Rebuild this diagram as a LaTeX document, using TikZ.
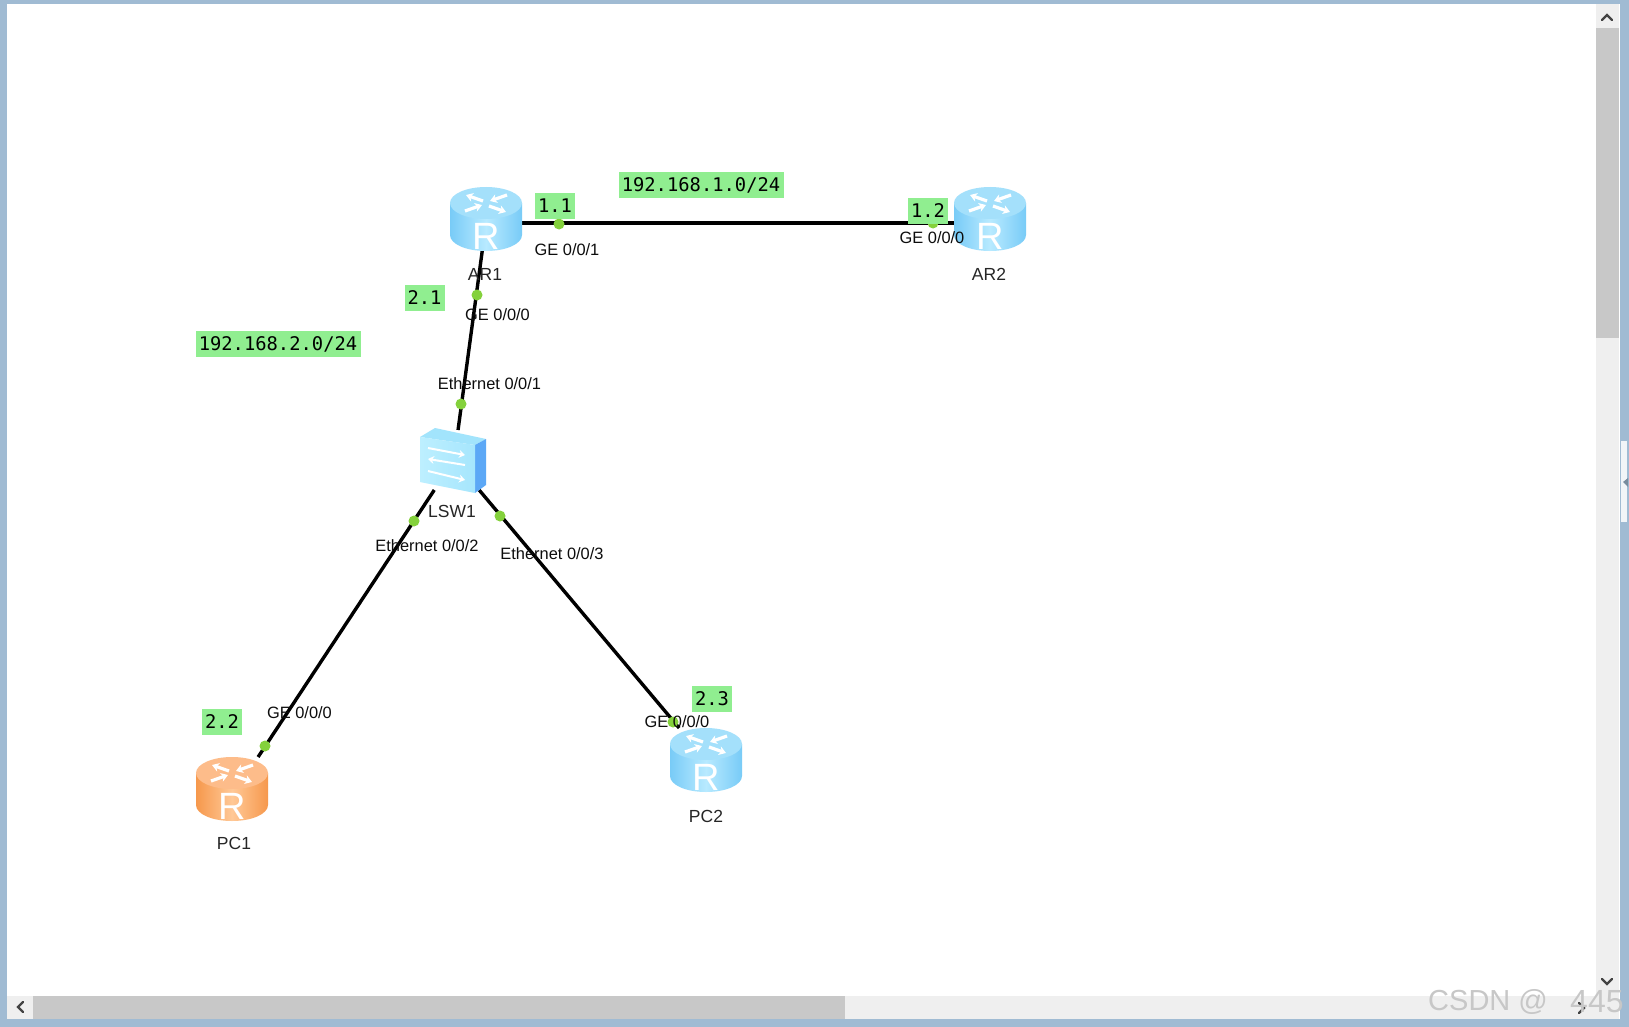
\documentclass[tikz,border=0pt]{standalone}
\usepackage{fontspec}
\setmainfont{Liberation Sans}
\newfontfamily\monolabel{DejaVu Sans Mono}
\usetikzlibrary{arrows.meta}
\definecolor{frameblue}{HTML}{A0BBD3}
\definecolor{barbg}{HTML}{EFEFEF}
\definecolor{barthumb}{HTML}{C8C8C8}
\definecolor{labelgreen}{HTML}{90EE90}
\definecolor{dotgreen}{HTML}{84D13C}
\definecolor{chev}{HTML}{444444}
\definecolor{blueedge}{HTML}{78CBF7}
\definecolor{bluemid}{HTML}{B8EAFF}
\definecolor{bluetop}{HTML}{A4E0FB}
\definecolor{orangeedge}{HTML}{F6984C}
\definecolor{orangemid}{HTML}{FFC896}
\definecolor{orangetop}{HTML}{FDBC8A}
\definecolor{swfront}{HTML}{BDEFFF}
\definecolor{swfrontb}{HTML}{A6E6FD}
\definecolor{swtop}{HTML}{A2E4FC}
\definecolor{swside}{HTML}{5CA8F6}
\tikzset{
  x=1pt,y=-1pt,
  anchorbox/.style={rectangle,minimum width=#1,inner sep=0pt,outer sep=0pt},
  routerbox/.style={anchorbox=72,minimum height=64},
  switchbox/.style={anchorbox=66,minimum height=60},
  link/.style={draw=black,line width=3.4pt},
  portdot/.style={circle,fill=dotgreen,minimum size=11,inner sep=0pt},
  porttext/.style={inner sep=0pt,text=black!95,font=\fontsize{16.4}{16.4}\selectfont},
  devtext/.style={inner sep=0pt,text=black!85,font=\fontsize{17.5}{17.5}\selectfont},
  iplabel/.style={fill=labelgreen,inner sep=0pt,minimum height=26,text=black,font=\monolabel\fontsize{18.8}{18.8}\selectfont},
  shortip/.style={iplabel,minimum width=40},
  longip/.style={iplabel,minimum width=165},
  chevron/.style={draw=chev,line width=2.4pt,line cap=round},
  mark text/.style={inner sep=0pt,text=black!22,font=\fontsize{#1}{#1}\selectfont},
  glyph/.style={draw=white,line width=3.2pt,-{Stealth[length=7pt,width=9pt]}},
  pics/routericon/.style n args={3}{code={
    \shade[left color=#1,right color=#1,middle color=#2]
      (-36,-16) -- (-36,16) .. controls (-36,25) and (-20,32) .. (0,32)
      .. controls (20,32) and (36,25) .. (36,16) -- (36,-16) -- cycle;
    \fill[#3] (0,-16) ellipse [x radius=36,y radius=16];
    \draw[glyph] (-3,-18) -- (-20,-24);
    \draw[glyph] (21,-24) -- (4,-18);
    \draw[glyph] (3,-13) -- (20,-7);
    \draw[glyph] (-21,-8) -- (-4,-14);
    \node[inner sep=0pt,text=white,font=\fontsize{38}{38}\selectfont] at (0,17) {R};
  }},
  pics/switchicon/.style={code={
    \fill[swtop] (-33,-23) -- (-18,-32) -- (33,-21) -- (22,-15) -- cycle;
    \fill[swside] (22,-15) -- (33,-21) -- (33,25) -- (22,33) -- cycle;
    \shade[left color=swfront,right color=swfrontb] (-33,-23) -- (22,-15) -- (22,33) -- (-33,22) -- cycle;
    \draw[white,line width=2pt,-{Stealth[length=6pt,width=8pt]}] (-25,-12) -- (12,-5);
    \draw[white,line width=2pt,-{Stealth[length=6pt,width=8pt]}] (12,5) -- (-25,-1);
    \draw[white,line width=2pt,-{Stealth[length=6pt,width=8pt]}] (-25,11) -- (12,20);
  }},
}
\begin{document}
\begin{tikzpicture}
\useasboundingbox (0,0) rectangle (1629,1027);
% window frame and scrollbars
\fill[frameblue] (0,0) rectangle (1629,1027);
\fill[white] (7,4) rectangle (1620,1019);
\fill[barbg] (1596,4) rectangle (1619,1019);
\fill[barbg] (7,996) rectangle (1619,1019);
\fill[barthumb] (1596,28) rectangle (1619,338);
\fill[barthumb] (33,996) rectangle (845,1019);
\fill[white!85!frameblue] (1621,441) rectangle (1627,522);
\fill[frameblue!75!black] (1628,478) -- (1623,482) -- (1628,487) -- cycle;
\draw[chevron] (1602,20) -- (1607,15) -- (1612,20);
\draw[chevron] (1602,979) -- (1607,984) -- (1612,979);
\draw[chevron] (23,1002) -- (18,1007) -- (23,1012);
\draw[chevron] (1579,1003) -- (1584,1008) -- (1579,1013);
% device anchors
\node[routerbox,minimum height=56] (AR1) at (486,223) {};
\node[routerbox] (AR2) at (990,223) {};
\node[switchbox] (LSW1) at (454,460) {};
\node[routerbox] (PC1) at (237,789) {};
\node[routerbox] (PC2) at (706,760) {};
% links
\draw[link] (AR1) -- (AR2);
\draw[link] (AR1) -- (LSW1);
\draw[link] (LSW1) -- (PC1);
\draw[link] (LSW1) -- (PC2);
% icons
\pic at ([yshift=4pt]AR1) {routericon={blueedge}{bluemid}{bluetop}};
\pic at ([yshift=4pt]AR2) {routericon={blueedge}{bluemid}{bluetop}};
\pic at (PC2) {routericon={blueedge}{bluemid}{bluetop}};
\pic at ([xshift=-5pt]PC1) {routericon={orangeedge}{orangemid}{orangetop}};
\pic at ([xshift=-1pt]LSW1) {switchicon};
% port dots
\node[portdot] (d1) at (559,224) {};
\node[portdot] (d2) at (933,223) {};
\node[portdot] (d3) at (477,295) {};
\node[portdot] (d4) at (461,404) {};
\node[portdot] (d5) at (414,521) {};
\node[portdot] (d6) at (500,516) {};
\node[portdot] (d7) at (265,746) {};
\node[portdot] (d8) at (673,722) {};
% device names
\node[devtext] (nAR1) at (485,274) {AR1};
\node[devtext] (nAR2) at (989,274) {AR2};
\node[devtext] (nLSW) at (452,511) {LSW1};
\node[devtext] (nPC1) at (234,843) {PC1};
\node[devtext] (nPC2) at (706,816) {PC2};
% port names
\node[porttext] (p1) at (567,250) {GE 0/0/1};
\node[porttext] (p2) at (932,238) {GE 0/0/0};
\node[porttext] (p3) at (497.5,315) {GE 0/0/0};
\node[porttext] (p4) at (489.5,384) {Ethernet 0/0/1};
\node[porttext] (p5) at (427,545.5) {Ethernet 0/0/2};
\node[porttext] (p6) at (552,554) {Ethernet 0/0/3};
\node[porttext] (p7) at (299.5,713) {GE 0/0/0};
\node[porttext] (p8) at (677,722) {GE 0/0/0};
% address labels
\node[longip] (n1) at (701,185) {192.168.1.0/24};
\node[longip] (n2) at (278,344) {192.168.2.0/24};
\node[shortip] (a1) at (555,206) {1.1};
\node[shortip] (a2) at (928,210.5) {1.2};
\node[shortip] (a3) at (424.5,297.5) {2.1};
\node[shortip] (a4) at (222,722) {2.2};
\node[shortip] (a5) at (712,698.5) {2.3};
% watermark
\node[mark text=29,anchor=west] (w1) at (1428,1002) {CSDN @};
\node[mark text=32,anchor=west] (w2) at (1570,1002) {445};
\end{tikzpicture}
\end{document}
